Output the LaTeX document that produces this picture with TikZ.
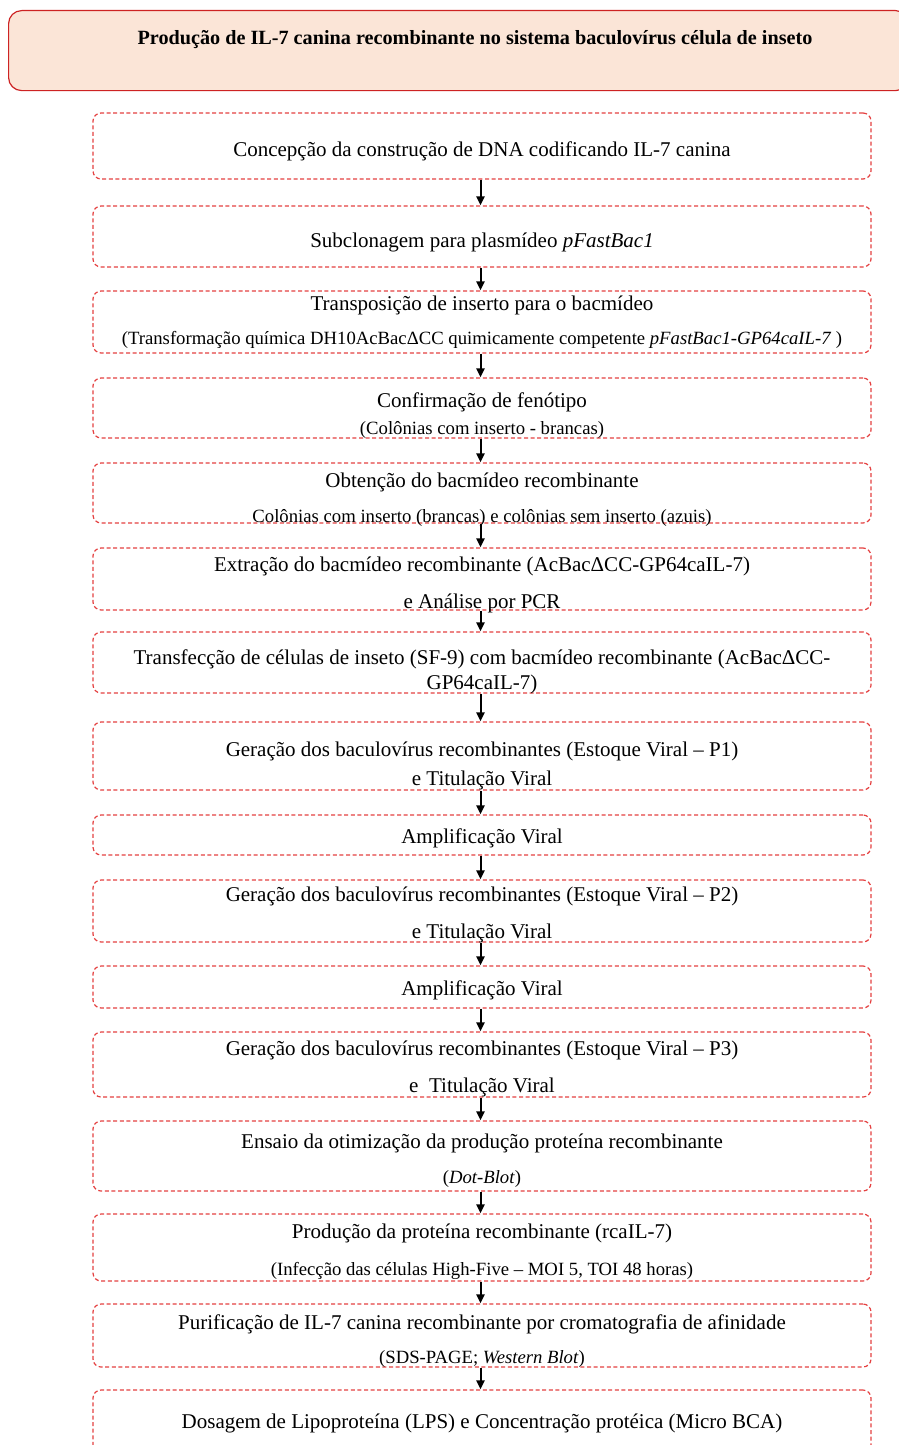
\documentclass[tikz,border=0pt]{standalone}
\usepackage{fontspec}
\setmainfont{Liberation Serif}
\usetikzlibrary{arrows.meta}
\definecolor{boxred}{RGB}{228,64,64}
\definecolor{hdrred}{RGB}{205,35,35}
\definecolor{hdrfill}{RGB}{251,229,215}
\begin{document}
\begin{tikzpicture}[x=1pt,y=-1pt,
  stepbox/.style={draw=boxred, line width=1.2pt, dash pattern=on 4pt off 2.6pt,
    rounded corners=8pt, minimum width=778pt, inner sep=0pt},
  header/.style={draw=hdrred, fill=hdrfill, line width=1.2pt, rounded corners=13pt,
    minimum width=900pt, minimum height=80pt, inner sep=0pt, anchor=north west},
  titletext/.style={font=\fontsize{20.2}{24}\selectfont\bfseries, inner sep=0pt, anchor=base},
  maintext/.style={font=\fontsize{21}{24}\selectfont, inner sep=0pt, anchor=base},
  subtext/.style={font=\fontsize{18.7}{22}\selectfont, inner sep=0pt, anchor=base},
  arr/.style={draw=black, line width=2pt, -{Triangle[length=9pt,width=8pt]}}
]
\useasboundingbox (0,0) rectangle (899,1445);
\clip (0,0) rectangle (899,1445);

\node[header] (hdr) at (8,10) {};
\node[titletext] (ttl) at (475,45) {Produção de IL-7 canina recombinante no sistema baculovírus célula de inseto};

% boxes
\node[stepbox, minimum height=66pt] (b1) at (482,146) {};
\node[stepbox, minimum height=61pt] (b2) at (482,236.5) {};
\node[stepbox, minimum height=62pt] (b3) at (482,322) {};
\node[stepbox, minimum height=60pt] (b4) at (482,408) {};
\node[stepbox, minimum height=60pt] (b5) at (482,493) {};
\node[stepbox, minimum height=62pt] (b6) at (482,579) {};
\node[stepbox, minimum height=61pt] (b7) at (482,662.5) {};
\node[stepbox, minimum height=68pt] (b8) at (482,756) {};
\node[stepbox, minimum height=40pt] (b9) at (482,835) {};
\node[stepbox, minimum height=62pt] (b10) at (482,911) {};
\node[stepbox, minimum height=42pt] (b11) at (482,987) {};
\node[stepbox, minimum height=65pt] (b12) at (482,1064.5) {};
\node[stepbox, minimum height=70pt] (b13) at (482,1156) {};
\node[stepbox, minimum height=67pt] (b14) at (482,1247.5) {};
\node[stepbox, minimum height=63pt] (b15) at (482,1335.5) {};
\node[stepbox, minimum height=75pt] (b16) at (482,1427.5) {};

% texts
\node[maintext] (t1) at (482,156) {Concepção da construção de DNA codificando IL-7 canina};
\node[maintext] (t2) at (482,247) {Subclonagem para plasmídeo \textit{pFastBac1}};
\node[maintext] (t3a) at (482,310) {Transposição de inserto para o bacmídeo};
\node[subtext] (t3b) at (482,344) {(Transformação química DH10AcBacΔCC quimicamente competente \textit{pFastBac1-GP64caIL-7} )};
\node[maintext] (t4a) at (482,407) {Confirmação de fenótipo};
\node[subtext] (t4b) at (482,434) {(Colônias com inserto - brancas)};
\node[maintext] (t5a) at (482,487) {Obtenção do bacmídeo recombinante};
\node[subtext] (t5b) at (482,522) {Colônias com inserto (brancas) e colônias sem inserto (azuis)};
\node[maintext] (t6a) at (482,571) {Extração do bacmídeo recombinante (AcBacΔCC-GP64caIL-7)};
\node[maintext] (t6b) at (482,608) {e Análise por PCR};
\node[maintext] (t7a) at (482,664) {Transfecção de células de inseto (SF-9) com bacmídeo recombinante (AcBacΔCC-};
\node[maintext] (t7b) at (482,689) {GP64caIL-7)};
\node[maintext] (t8a) at (482,756) {Geração dos baculovírus recombinantes (Estoque Viral – P1)};
\node[maintext] (t8b) at (482,785) {e Titulação Viral};
\node[maintext] (t9) at (482,843) {Amplificação Viral};
\node[maintext] (t10a) at (482,901) {Geração dos baculovírus recombinantes (Estoque Viral – P2)};
\node[maintext] (t10b) at (482,938) {e Titulação Viral};
\node[maintext] (t11) at (482,995) {Amplificação Viral};
\node[maintext] (t12a) at (482,1055) {Geração dos baculovírus recombinantes (Estoque Viral – P3)};
\node[maintext] (t12b) at (482,1092) {e\ \ Titulação Viral};
\node[maintext] (t13a) at (482,1148) {Ensaio da otimização da produção proteína recombinante};
\node[subtext] (t13b) at (482,1183) {(\textit{Dot-Blot})};
\node[maintext] (t14a) at (482,1238) {Produção da proteína recombinante (rcaIL-7)};
\node[subtext] (t14b) at (482,1275) {(Infecção das células High-Five – MOI 5, TOI 48 horas)};
\node[maintext] (t15a) at (482,1329) {Purificação de IL-7 canina recombinante por cromatografia de afinidade};
\node[subtext] (t15b) at (482,1363) {(SDS-PAGE; \textit{Western Blot})};
\node[maintext] (t16) at (482,1428) {Dosagem de Lipoproteína (LPS) e Concentração protéica (Micro BCA)};

% arrows
\foreach \a/\b in {b1/b2,b2/b3,b3/b4,b4/b5,b5/b6,b6/b7,b7/b8,b8/b9,b9/b10,b10/b11,b11/b12,b12/b13,b13/b14,b14/b15,b15/b16}
  \draw[arr] ([xshift=-1.5pt]\a.south) -- ([xshift=-1.5pt]\b.north);
\end{tikzpicture}
\end{document}
